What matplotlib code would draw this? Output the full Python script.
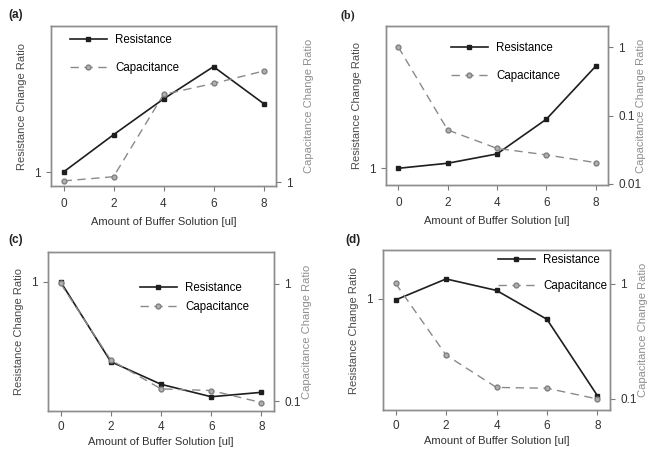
import numpy as np
import matplotlib
matplotlib.use("Agg")
import matplotlib.pyplot as plt
from matplotlib.ticker import FixedLocator, NullLocator, FixedFormatter

plt.rcParams['font.family'] = ['Liberation Sans', 'DejaVu Sans']
plt.rcParams['font.size'] = 8

# buffer amount (ul)
buffer_ul = [0, 2, 4, 6, 8]

# resistance / capacitance change ratio per panel
res_a = [1.0, 1.41, 1.96, 2.64, 1.88]
cap_a = [1.01, 1.05, 2.24, 2.48, 2.78]

res_b = [1.0, 1.06, 1.18, 1.76, 3.24]
cap_b = [1.0, 0.0615, 0.0331, 0.0266, 0.0205]

res_c = [1.0, 0.293, 0.207, 0.171, 0.183]
cap_c = [1.01, 0.224, 0.127, 0.123, 0.097]

res_d = [0.985, 1.36, 1.14, 0.732, 0.227]
cap_d = [1.01, 0.241, 0.126, 0.124, 0.100]

panel_names = ['(a)', '(b)', '(c)', '(d)']
right_ticks = [[1], [1, 0.1, 0.01], [1, 0.1], [1, 0.1]]
right_ticklabels = [['1'], ['1', '0.1', '0.01'], ['1', '0.1'], ['1', '0.1']]

W, H = 658, 449
fig = plt.figure(figsize=(W / 100, H / 100), dpi=100)


def box(l, t, r, b):
    return [l / W, 1 - b / H, (r - l) / W, (b - t) / H]


# axes boxes in pixels (left, top, right, bottom)
boxes = [(51, 26, 276, 186), (386, 26, 608, 185),
         (48, 252, 274, 411), (383, 250, 610, 410)]
left_lims = [(0.879, 3.84), (0.825, 5.15), (0.1374, 1.577), (0.182, 2.12)]
right_lims = [(0.964, 4.21), (0.00966, 2.03), (0.0822, 1.876), (0.0802, 1.975)]
# legend: handle start x, top y (px), row spacing
leg_pos = [(70, 34, 1.35), (451, 42, 1.35), (140, 282, 0.65), (498, 254, 1.25)]
name_pos = [(8, 15), (341, 15), (8, 240), (345, 240)]
# x tick pad, xlabel offset below the axes (px)
x_pads = [5, 5, 3.5, 3.5]
xlab_off = [31, 31, 26, 26]

res_all = [res_a, res_b, res_c, res_d]
cap_all = [cap_a, cap_b, cap_c, cap_d]

spine_col = '#8c8c8c'

for i in range(4):
    l, t, r, b = boxes[i]
    ax = fig.add_axes(box(l, t, r, b))
    ax2 = ax.twinx()

    h1, = ax.plot(buffer_ul, res_all[i], color='#1e1e1e', lw=1.2, marker='s',
                  ms=3.5, mfc='#1e1e1e', mec='#1e1e1e', label='Resistance')
    h2, = ax2.plot(buffer_ul, cap_all[i], color='#8a8a8a', lw=1.0, ls=(0, (6, 4)),
                   marker='o', ms=3.5, mfc='#b0b0b0', mec='#808080',
                   label='Capacitance')

    for a in (ax, ax2):
        a.set_yscale('log')
        a.yaxis.set_minor_locator(NullLocator())
        for s in a.spines.values():
            s.set_color(spine_col)
            s.set_linewidth(1.0)
        a.tick_params(colors='#7a7a7a', labelcolor='#333333', length=3.5,
                      width=0.8, labelsize=8.5)

    ax.set_ylim(*left_lims[i])
    ax2.set_ylim(*right_lims[i])
    ax.yaxis.set_major_locator(FixedLocator([1]))
    ax.yaxis.set_major_formatter(FixedFormatter(['1']))
    ax2.yaxis.set_major_locator(FixedLocator(right_ticks[i]))
    ax2.yaxis.set_major_formatter(FixedFormatter(right_ticklabels[i]))

    ax.set_xlim(-0.5, 8.5)
    ax.set_xticks(buffer_ul)
    ax.tick_params(axis='x', pad=x_pads[i])
    ax.tick_params(axis='y', pad=4)
    ax2.tick_params(axis='y', pad=4)

    hgt = b - t
    wid = r - l
    ax.set_xlabel('Amount of Buffer Solution [ul]', color='#333333', fontsize=8)
    ax.xaxis.set_label_coords(0.5, -(xlab_off[i] / hgt))
    ax.set_ylabel('Resistance Change Ratio', color='#4a4a4a', fontsize=8,
                  va='center', ha='center')
    ax.yaxis.set_label_coords(-(29 / wid), 0.5)
    ax2.set_ylabel('Capacitance Change Ratio', color='#8f8f8f', fontsize=8,
                   va='center', ha='center', rotation=90)
    ax2.yaxis.set_label_coords(1 + 33 / wid, 0.5)

    lx, ly, sp = leg_pos[i]
    ax.legend(handles=[h1, h2], loc='upper left',
              bbox_to_anchor=(lx / W, 1 - ly / H), bbox_transform=fig.transFigure,
              frameon=False, borderpad=0, borderaxespad=0, handlelength=3.2,
              handletextpad=0.7, labelspacing=sp, fontsize=8.3, numpoints=1)

    nx, ny = name_pos[i]
    fig.text(nx / W, 1 - ny / H, panel_names[i], fontsize=8.5, fontweight='bold',
             color='#222222', ha='left', va='center',
             family=['Liberation Serif'] if i == 1 else ['Liberation Sans'])

fig.savefig('out.png', dpi=100)
